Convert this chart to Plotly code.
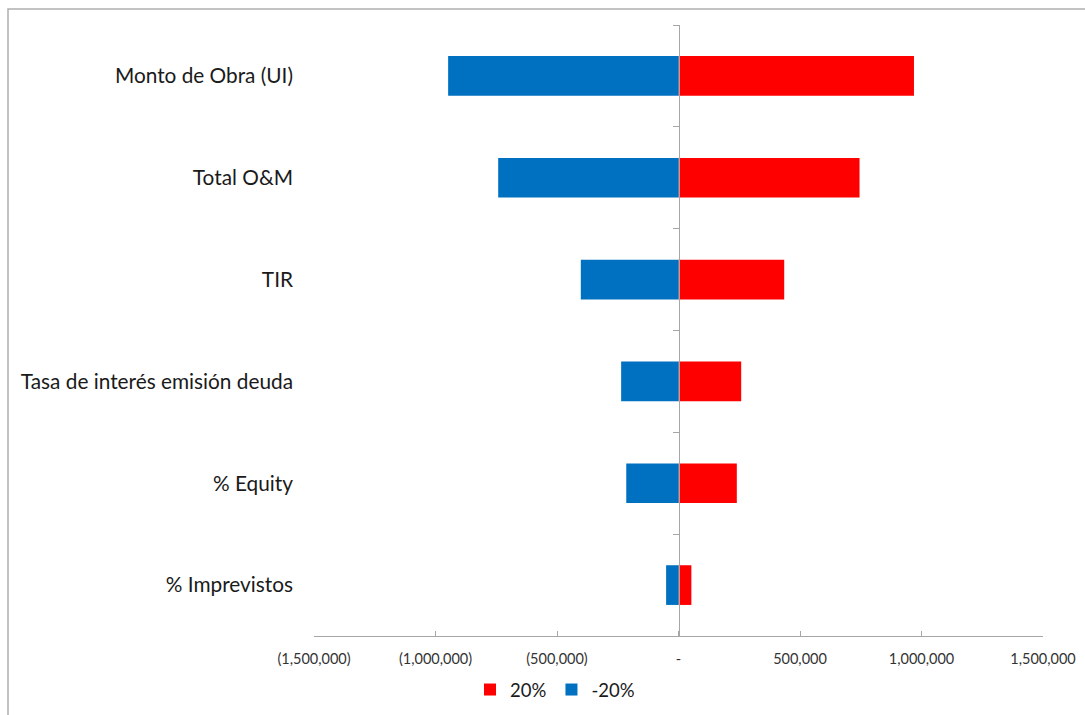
import plotly.graph_objects as go

categories = ["Monto de Obra (UI)", "Total O&M", "TIR",
              "Tasa de interés emisión deuda", "% Equity", "% Imprevistos"]
up_20 = [969000, 745000, 435000, 258000, 240000, 53000]
down_20 = [-948000, -742000, -402000, -236000, -215000, -51000]
tick_vals = [-1500000, -1000000, -500000, 0, 500000, 1000000, 1500000]
tick_text = ["(1,500,000)", "(1,000,000)", "(500,000)", "-", "500,000", "1,000,000", "1,500,000"]

RED = "#FF0000"
BLUE = "#0070C0"
GRAY = "#A6A6A6"
FONT = "Lato"

fig = go.Figure()
fig.add_trace(go.Bar(y=categories, x=up_20, orientation="h", name="20%",
                     marker=dict(color=RED, line=dict(width=0)),
                     yaxis="y", xaxis="x"))
fig.add_trace(go.Bar(y=categories, x=down_20, orientation="h", name="-20%",
                     marker=dict(color=BLUE, line=dict(width=0)),
                     yaxis="y2", xaxis="x"))

W, H = 1085, 715
ml, mr, mt, mb = 314, 42, 25, 79
pw, ph = W - ml - mr, H - mt - mb

fig.update_layout(
    width=W, height=H,
    margin=dict(l=ml, r=mr, t=mt, b=mb, autoexpand=False),
    paper_bgcolor="white", plot_bgcolor="white",
    barmode="overlay", bargap=0.61,
    font=dict(family=FONT, color="#1a1a1a"),
    xaxis=dict(range=[-1500000, 1500000], tickvals=tick_vals, ticktext=tick_text,
               showgrid=False, zeroline=False, showline=True, linecolor=GRAY,
               linewidth=1, ticks="inside", ticklen=5, tickcolor=GRAY,
               tickfont=dict(size=14.5, color="#333333"), ticklabelstandoff=10),
    yaxis=dict(type="category", categoryorder="array", categoryarray=categories,
               range=[5.5, -0.5], showgrid=False, zeroline=False, showline=False,
               ticks="", tickfont=dict(size=20.8, color="#1a1a1a"),
               ticklabelstandoff=20),
    yaxis2=dict(type="category", categoryorder="array", categoryarray=categories,
                range=[5.5, -0.5], overlaying="y", anchor="free", position=0.5,
                side="left", showgrid=False, zeroline=False, showline=True,
                linecolor=GRAY, linewidth=1, ticks="outside", tickson="boundaries",
                ticklen=6, tickcolor=GRAY, showticklabels=False),
    legend=dict(orientation="h", x=(470 - ml) / pw, xanchor="left",
                y=-(690 - (H - mb)) / ph, yanchor="middle",
                font=dict(size=18.5, color="#1a1a1a"), itemwidth=30,
                traceorder="normal", bgcolor="rgba(0,0,0,0)"),
    showlegend=True,
    shapes=[dict(type="rect", xref="paper", yref="paper",
                 x0=(8 - ml) / pw, x1=(W + 20 - ml) / pw,
                 y0=-(H + 20 - (H - mb)) / ph, y1=((H - mb) - 9) / ph,
                 line=dict(color="#B0B0B0", width=1.5), fillcolor="rgba(0,0,0,0)",
                 layer="below")],
)

fig.write_html("out.html")
